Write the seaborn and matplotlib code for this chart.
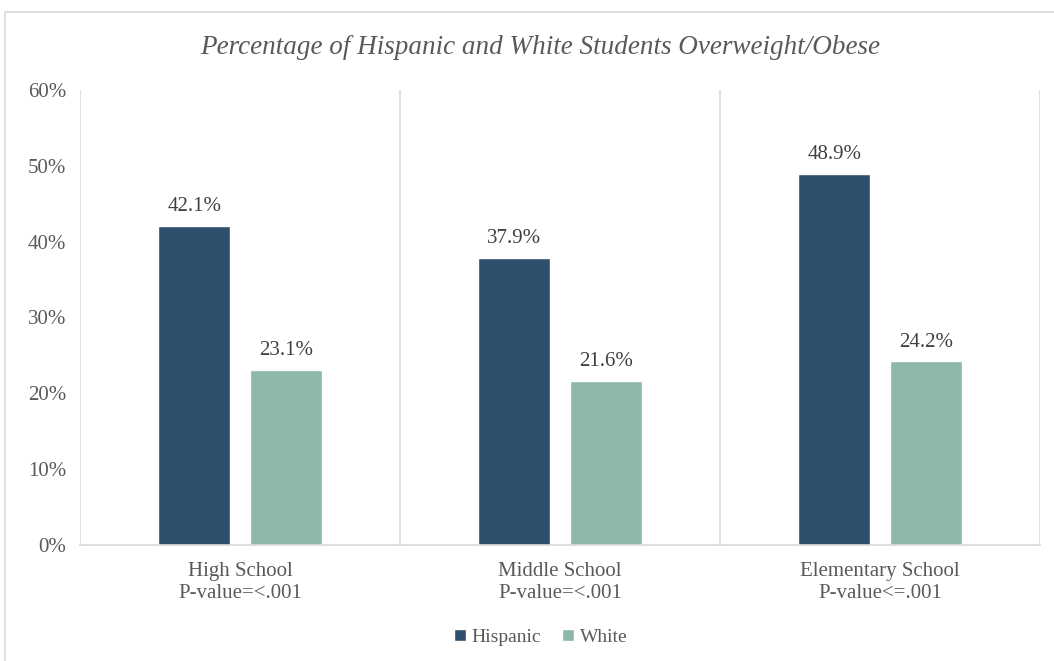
import matplotlib
matplotlib.use("Agg")
import matplotlib.pyplot as plt
from matplotlib.patches import Rectangle
from matplotlib.ticker import PercentFormatter, MultipleLocator
import seaborn as sns
import pandas as pd

# Data
schools = ["High School", "Middle School", "Elementary School"]
p_values = ["P-value=<.001", "P-value=<.001", "P-value<=.001"]
groups = ["Hispanic", "White"]
hispanic = [42.1, 37.9, 48.9]
white = [23.1, 21.6, 24.2]
colors = ["#2F506C", "#8DB8A8"]

df = pd.DataFrame({
    "school": schools * 2,
    "group": [groups[0]] * 3 + [groups[1]] * 3,
    "pct": hispanic + white,
})

sns.set_theme(style="white")
plt.rcParams["font.family"] = ["Liberation Serif", "DejaVu Serif"]
text_color = "#595959"
line_color = "#D9D9D9"

fig = plt.figure(figsize=(10.54, 6.61), dpi=100)
fig.patch.set_facecolor("white")
# Chart-area border
fig.patches.append(Rectangle((5 / 1054, -0.01), 1.02, 1 - 12 / 661 + 0.01,
                             transform=fig.transFigure, fill=False,
                             edgecolor=line_color, linewidth=1.2))

ax = fig.add_axes([80 / 1054, 1 - 545 / 661, 960 / 1054, 455 / 661])
sns.barplot(data=df, x="school", y="pct", hue="group", order=schools,
            hue_order=groups, palette=colors, width=0.572, gap=0.213,
            saturation=1, ax=ax, legend=True)

ax.set_ylim(0, 60)
ax.set_xlim(-0.5, 2.5)
ax.yaxis.set_major_locator(MultipleLocator(10))
ax.yaxis.set_major_formatter(PercentFormatter(decimals=0))
ax.set_xlabel("")
ax.set_ylabel("")
ax.set_xticks(range(len(schools)))
ax.set_xticklabels([f"{s}\n{p}" for s, p in zip(schools, p_values)],
                   fontsize=15, color=text_color, linespacing=1.25)
ax.tick_params(axis="y", labelsize=15, labelcolor=text_color, length=0, pad=10)
ax.tick_params(axis="x", length=0, pad=12)

for side in ["top", "right", "left"]:
    ax.spines[side].set_visible(False)
ax.spines["bottom"].set_color(line_color)
ax.spines["bottom"].set_linewidth(1.2)

# Category separators
for xv in [-0.5, 0.5, 1.5, 2.5]:
    ax.axvline(xv, color=line_color, linewidth=1.2, zorder=0)

# Value labels
for container in ax.containers:
    ax.bar_label(container, labels=[f"{v:.1f}%" for v in container.datavalues],
                 padding=7, fontsize=15, color="#404040")

# Chart title, centred on the whole chart area
fig.text(540 / 1054, 1 - 47 / 661,
         "Percentage of Hispanic and White Students Overweight/Obese",
         fontsize=19.5, style="italic", color=text_color,
         ha="center", va="center")

leg = ax.legend(loc="center", bbox_to_anchor=(0.48, -0.203), ncol=2,
                frameon=False, fontsize=14, handlelength=0.6,
                handleheight=0.6, handletextpad=0.3, columnspacing=1.1)
for t in leg.get_texts():
    t.set_color(text_color)

fig.savefig("out.png", dpi=100)
